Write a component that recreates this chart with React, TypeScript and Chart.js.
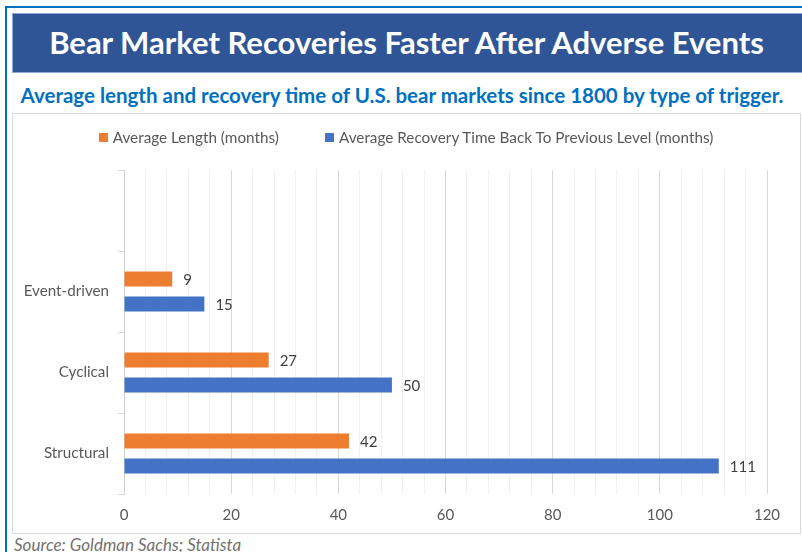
import React, { useEffect, useRef } from "react";
import { Chart, registerables } from "chart.js";

Chart.register(...registerables);

const categories = ["", "Event-driven", "Cyclical", "Structural"];
const averageLength = [null, 9, 27, 42];
const recoveryTime = [null, 15, 50, 111];
const seriesNames = [
  "Average Length (months)",
  "Average Recovery Time Back To Previous Level (months)",
];
const xMin = 0;
const xMax = 120;
const xStep = 4;
const xLabelStep = 20;

const ORANGE = "#ed7d31";
const BLUE = "#4472c4";
const FONT = "Lato, 'Open Sans', sans-serif";

const valueLabels = {
  id: "valueLabels",
  afterDatasetsDraw(chart: any) {
    const ctx = chart.ctx;
    ctx.save();
    ctx.font = `15px ${FONT}`;
    ctx.fillStyle = "#404040";
    ctx.textAlign = "left";
    ctx.textBaseline = "middle";
    chart.data.datasets.forEach((ds: any, di: number) => {
      const meta = chart.getDatasetMeta(di);
      meta.data.forEach((bar: any, i: number) => {
        const v = ds.data[i];
        if (v === null || v === undefined) return;
        ctx.fillText(String(v), bar.x + 11, bar.y + 1);
      });
    });
    ctx.restore();
  },
};

export default function App() {
  const canvasRef = useRef<HTMLCanvasElement | null>(null);

  useEffect(() => {
    if (!canvasRef.current) return;
    const chart = new Chart(canvasRef.current, {
      type: "bar",
      data: {
        labels: categories,
        datasets: [
          {
            label: seriesNames[0],
            data: averageLength,
            backgroundColor: ORANGE,
            categoryPercentage: 0.62,
            barPercentage: 0.6,
          },
          {
            label: seriesNames[1],
            data: recoveryTime,
            backgroundColor: BLUE,
            categoryPercentage: 0.62,
            barPercentage: 0.6,
          },
        ],
      },
      options: {
        indexAxis: "y",
        animation: false,
        responsive: false,
        maintainAspectRatio: false,
        layout: { padding: { top: 57, right: 33, left: 0, bottom: 0 } },
        plugins: {
          legend: { display: false },
          tooltip: { enabled: false },
        },
        scales: {
          x: {
            min: xMin,
            max: xMax,
            ticks: {
              stepSize: xStep,
              autoSkip: false,
              maxRotation: 0,
              padding: 12,
              color: "#595959",
              font: { family: FONT, size: 15 },
              callback: (v: any) => (Number(v) % xLabelStep === 0 ? String(v) : ""),
            },
            grid: {
              drawTicks: false,
              color: (c: any) =>
                c.tick && c.tick.value % xLabelStep === 0 ? "#d9d9d9" : "#f0f0f0",
              lineWidth: 1,
            },
            border: { display: false },
            afterFit: (s: any) => {
              s.height = 40;
            },
          },
          y: {
            ticks: {
              color: "#595959",
              padding: 9,
              font: { family: FONT, size: 15.2 },
            },
            grid: {
              drawOnChartArea: false,
              drawTicks: true,
              tickLength: 6,
              color: "#d9d9d9",
            },
            border: { display: true, color: "#d0d0d0" },
            afterFit: (s: any) => {
              s.width = 112;
            },
          },
        },
      },
      plugins: [valueLabels],
    });
    return () => chart.destroy();
  }, []);

  return (
    <div
      style={{
        position: "absolute",
        left: 0,
        top: 0,
        width: 802,
        height: 552,
        overflow: "hidden",
        background: "#ffffff",
        fontFamily: FONT,
      }}
    >
      <div
        style={{
          position: "absolute",
          left: 5,
          top: 6,
          width: 900,
          height: 700,
          borderTop: "2px solid #0070c0",
          borderLeft: "2px solid #0070c0",
          boxSizing: "border-box",
        }}
      />
      <div
        style={{
          position: "absolute",
          left: 12,
          top: 13,
          width: 800,
          height: 60,
          background: "#2f5597",
          color: "#ffffff",
          fontWeight: 700,
          fontSize: 31,
          lineHeight: "56px",
          textAlign: "center",
          paddingRight: 12,
          boxSizing: "border-box",
          borderTop: "1px solid #8ea9db",
          borderLeft: "1px solid #8ea9db",
          borderBottom: "1px solid #8ea9db",
          whiteSpace: "nowrap",
        }}
      >
        Bear Market Recoveries Faster After Adverse Events
      </div>
      <div
        style={{
          position: "absolute",
          left: 0,
          top: 82,
          width: 804,
          textAlign: "center",
          color: "#0070c0",
          fontWeight: 700,
          fontSize: 20.5,
          lineHeight: "26px",
          whiteSpace: "nowrap",
        }}
      >
        Average length and recovery time of U.S. bear markets since 1800 by type of trigger.
      </div>
      <div
        style={{
          position: "absolute",
          left: 12,
          top: 113,
          width: 789,
          height: 421,
          border: "1px solid #d9d9d9",
          boxSizing: "border-box",
        }}
      />
      <canvas
        ref={canvasRef}
        width={788}
        height={421}
        style={{ position: "absolute", left: 12, top: 113, width: 788, height: 421 }}
      />
      <div
        style={{
          position: "absolute",
          left: 12,
          top: 127,
          width: 788,
          display: "flex",
          justifyContent: "center",
          gap: 46,
          fontSize: 15.3,
          color: "#595959",
          lineHeight: "20px",
          whiteSpace: "nowrap",
        }}
      >
        <span style={{ display: "flex", alignItems: "center" }}>
          <span
            style={{ display: "inline-block", width: 9, height: 9, background: ORANGE, marginRight: 5 }}
          />
          {seriesNames[0]}
        </span>
        <span style={{ display: "flex", alignItems: "center" }}>
          <span
            style={{ display: "inline-block", width: 9, height: 9, background: BLUE, marginRight: 5 }}
          />
          {seriesNames[1]}
        </span>
      </div>
      <div
        style={{
          position: "absolute",
          left: 14,
          top: 534,
          fontSize: 17,
          fontStyle: "italic",
          color: "#757171",
          lineHeight: "22px",
          whiteSpace: "nowrap",
        }}
      >
        Source: Goldman Sachs; Statista
      </div>
    </div>
  );
}
